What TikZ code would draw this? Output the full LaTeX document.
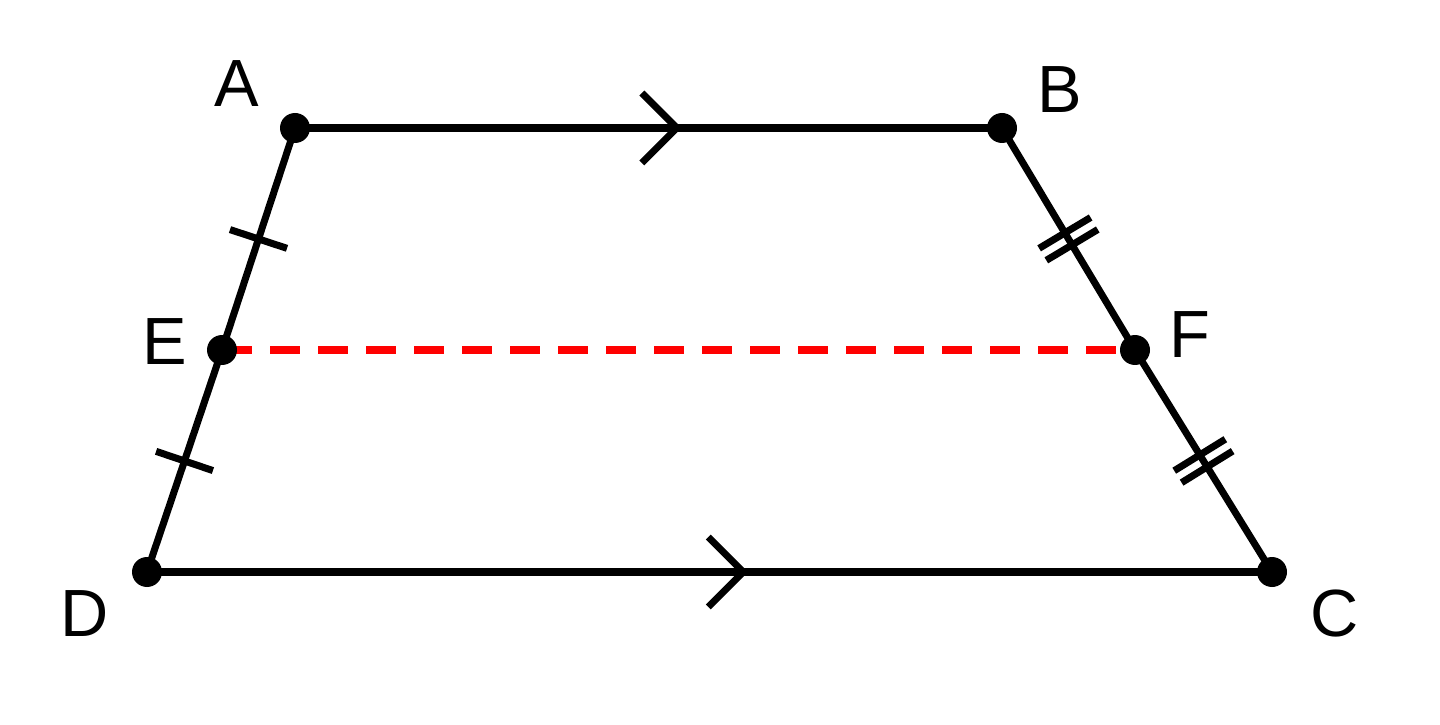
\documentclass[tikz,border=0pt]{standalone}
\usepackage{fontspec}
\setmainfont{Liberation Sans}
\usetikzlibrary{decorations.markings}
\tikzset{
  side/.style={line width=2pt},
  singletick/.style={postaction={decorate,decoration={markings,
    mark=at position 0.5 with {\draw[side] (0,-0.3) -- (0,0.3);}}}},
  doubletick/.style={postaction={decorate,decoration={markings,
    mark=at position 0.5 with {\draw[side] (-0.07,-0.3) -- (-0.07,0.3) (0.07,-0.3) -- (0.07,0.3);}}}},
  chevron/.style={postaction={decorate,decoration={markings,
    mark=at position #1 with {\draw[side] (-0.35,0.35) -- (0,0) -- (-0.35,-0.35);}}}},
  lbl/.style={font=\fontsize{19}{21}\selectfont}
}
\begin{document}
\begin{tikzpicture}
    \useasboundingbox (0,0) rectangle (14.4,7.24);
    
    % corners and midpoints
    \coordinate (A) at (2.95,5.96);
    \coordinate (B) at (10.02,5.96);
    \coordinate (C) at (12.72,1.52);
    \coordinate (D) at (1.47,1.52);
    \coordinate (E) at (2.22,3.74);
    \coordinate (F) at (11.35,3.74);
    
    % midline
    \draw[red, line width=2pt, dash pattern=on 0.3cm off 0.18cm] (E) -- (F);
    
    % sides
    \draw[side, chevron=0.54] (A) -- (B);
    \draw[side, chevron=0.53] (D) -- (C);
    \draw[side, singletick] (A) -- (E);
    \draw[side, singletick] (E) -- (D);
    \draw[side, doubletick] (B) -- (F);
    \draw[side, doubletick] (F) -- (C);
    
    % dots
    \foreach \p in {A,B,C,D,E,F}
        \fill (\p) circle (0.15);
    
    % labels
    \node[lbl] at (2.37,6.4) {A};
    \node[lbl] at (10.6,6.34) {B};
    \node[lbl] at (13.35,1.1) {C};
    \node[lbl] at (0.85,1.1) {D};
    \node[lbl] at (1.65,3.82) {E};
    \node[lbl] at (11.9,3.89) {F};
\end{tikzpicture}
\end{document}
